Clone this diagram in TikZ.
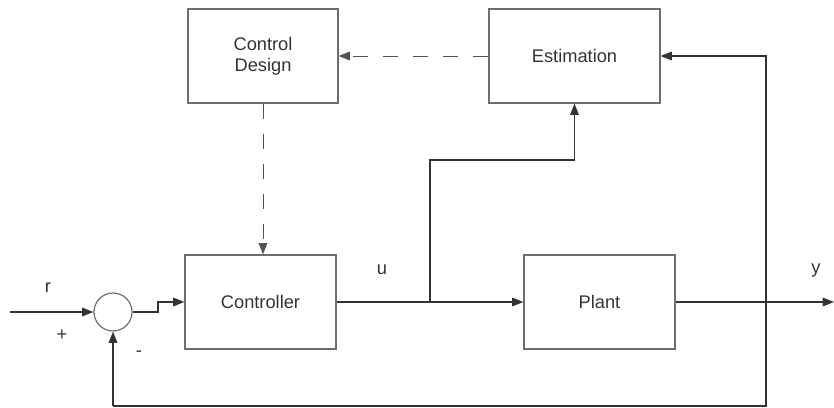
\documentclass[tikz,border=0pt]{standalone}
\usepackage{fontspec}
\setmainfont{Liberation Sans}
\usetikzlibrary{arrows.meta,calc}
\definecolor{txt}{HTML}{333333}
\definecolor{boxc}{HTML}{6E6E6E}
\definecolor{linec}{HTML}{333333}
\begin{document}
\begin{tikzpicture}[x=0.75pt,y=-0.75pt,
  every node/.style={font=\fontsize{13.7}{15.8}\selectfont, text=txt},
  blk/.style={draw=boxc, line width=0.9pt, minimum height=70.5pt, align=center, inner sep=0pt},
  sumc/.style={circle, draw=boxc, line width=0.9pt, minimum size=28.5pt, inner sep=0pt},
  conn/.style={draw=linec, line width=0.8pt, -{Triangle[length=8.5pt,width=6.5pt]}},
  plainc/.style={draw=linec, line width=0.8pt},
  dashc/.style={conn, draw=linec!85!white, line width=0.75pt, dash pattern=on 11.25pt off 11.25pt},
  lbl/.style={inner sep=0pt}]
\useasboundingbox (0,0) rectangle (834,407);
\node[blk, minimum width=112.5pt] (cd) at (263,56) {Control\\Design};
\node[blk, minimum width=128.25pt] (est) at (574.5,56) {Estimation};
\node[blk, minimum width=113.25pt] (ctrl) at (260.5,302) {Controller};
\node[blk, minimum width=113.25pt] (plant) at (599.5,302) {Plant};
\node[sumc] (sum) at (113,312) {};
\coordinate (rin) at (10,312);
\coordinate (yout) at (834,302);
\coordinate (ub) at (430,302);
\coordinate (yb) at (766,302);
\coordinate (fbl) at (113,406);
\coordinate (fbr) at (766,406);
\coordinate (eu) at (430,160);
\coordinate (step1) at (158,312);
% connectors
\draw[conn] (rin) -- (sum.west);
\draw[conn] (sum.east) -- (step1) |- (ctrl.west);
\draw[conn] (ctrl.east) -- (plant.west);
\draw[conn] (ub) -- (eu) -| (est.south);
\draw[conn] (plant.east) -- (yout);
\draw[plainc] (yb) -- (fbr) -- (fbl);
\draw[conn] (fbl) -- (sum.south);
\draw[conn] (yb) |- (est.east);
\draw[dashc] (est.west) -- (cd.east);
\draw[dashc] (cd.south) -- (cd.south |- ctrl.north);
% labels
\node[lbl] (lr) at (48,288) {r};
\node[lbl] (lp) at (62,335) {+};
\node[lbl] (lm) at (139,354) {-};
\node[lbl] (lu) at (382,270) {u};
\node[lbl] (ly) at (816,271) {y};
\end{tikzpicture}
\end{document}
